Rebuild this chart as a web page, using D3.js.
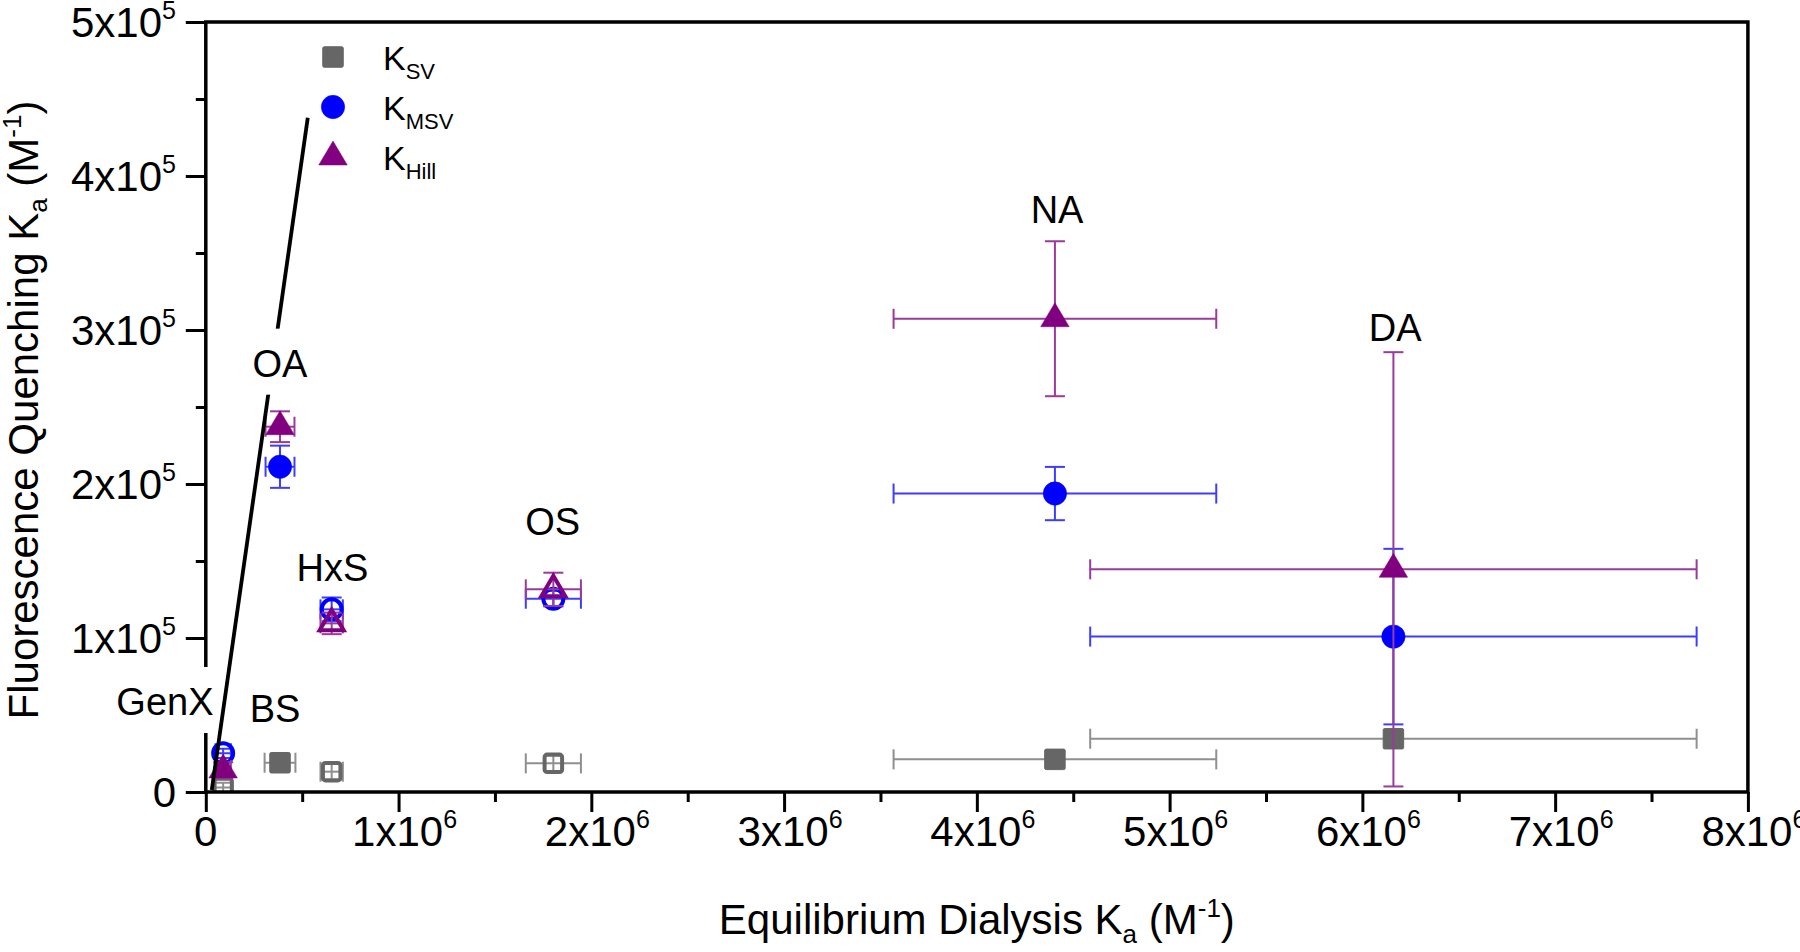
<!DOCTYPE html>
<html>
<head>
<meta charset="utf-8">
<script src="https://cdn.jsdelivr.net/npm/d3@7"></script>
<style>
html,body{margin:0;padding:0;background:#fff;}
svg{display:block;}
text{font-family:"Liberation Sans",Arial,Helvetica,sans-serif;fill:#000;}
</style>
</head>
<body>
<svg id="chart" width="1800" height="952"></svg>
<script>
// ---------------- data ----------------
const compounds = ["GenX", "BS", "OA", "HxS", "OS", "NA", "DA"];
const edKa      = [0.09e6, 0.385e6, 0.385e6, 0.653e6, 1.803e6, 4.405e6, 6.161e6];
const edKaErr   = [0.04e6, 0.08e6, 0.075e6, 0.058e6, 0.143e6, 0.837e6, 1.573e6];

const kSV       = [0.03e5, 0.19e5, null, 0.132e5, 0.186e5, 0.212e5, 0.346e5];
const kSVErr    = [0.03e5, 0, null, 0.05e5, 0.05e5, 0, 0];
const kMSV      = [0.251e5, null, 2.112e5, 1.186e5, 1.255e5, 1.938e5, 1.009e5];
const kMSVErr   = [0.03e5, null, 0.137e5, 0.077e5, 0.05e5, 0.173e5, 0.57e5];
const kHill     = [0.143e5, null, 2.372e5, 1.095e5, 1.316e5, 3.073e5, 1.446e5];
const kHillErr  = [0.05e5, null, 0.10e5, 0.07e5, 0.108e5, 0.503e5, 1.41e5];

const svOpen    = [true, false, false, true, true, false, false];
const msvOpen   = [true, false, false, true, true, false, false];
const hillOpen  = [false, false, false, true, true, false, false];

// annotation anchors (data units): centre x, baseline y
const labelX    = [-0.212e6, 0.359e6, 0.385e6, 0.657e6, 1.799e6, 4.416e6, 6.17e6];
const labelY    = [0.5e5, 0.456e5, 2.697e5, 1.37e5, 1.669e5, 3.692e5, 2.931e5];
const labelBg   = [true, false, true, false, false, false, false];

// reference line endpoints (data units)
const refLineX  = [0.031e6, 0.529e6];
const refLineY  = [0.013e5, 4.378e5];

const xTicks    = [0, 1e6, 2e6, 3e6, 4e6, 5e6, 6e6, 7e6, 8e6];
const yTicks    = [0, 1e5, 2e5, 3e5, 4e5, 5e5];
const legendSubs = ["SV", "MSV", "Hill"];

// ---------------- layout ----------------
const svg = d3.select("#chart");
const L = 205.8, R = 1747.9, T = 22, B = 792;
const x = d3.scaleLinear().domain([0, 8e6]).range([L, R]);
const y = d3.scaleLinear().domain([0, 5e5]).range([B, T]);

const series = [
  {name: "SV",   vals: kSV,   errs: kSVErr,   open: svOpen,   color: "#666666", err: "#8f8f8f", shape: "square"},
  {name: "MSV",  vals: kMSV,  errs: kMSVErr,  open: msvOpen,  color: "#0000ff", err: "#3d3dff", shape: "circle"},
  {name: "Hill", vals: kHill, errs: kHillErr, open: hillOpen, color: "#800080", err: "#9a3a9a", shape: "triangle"}
];

const CAP = 10;
function drawMarker(g, shape, cx, cy, color, open) {
  const sw = open ? 4 : 1;
  if (shape === "square") {
    const s = 20.5;
    g.append("rect").attr("x", cx - s/2 + (open?1.5:0)).attr("y", cy - s/2 + (open?1.5:0))
      .attr("width", s - (open?3:0)).attr("height", s - (open?3:0)).attr("rx", open?2.5:1.5)
      .attr("fill", open ? "none" : color).attr("stroke", color).attr("stroke-width", sw);
  } else if (shape === "circle") {
    g.append("circle").attr("cx", cx).attr("cy", cy).attr("r", open ? 10 : 11.7)
      .attr("fill", open ? "none" : color).attr("stroke", color).attr("stroke-width", open ? 4 : 0.5);
  } else {
    const w = open ? 24 : 28.5, h = open ? 20.5 : 24;
    const pts = [[cx, cy - 2*h/3], [cx + w/2, cy + h/3], [cx - w/2, cy + h/3]];
    g.append("path").attr("d", "M" + pts.map(p => p.join(",")).join("L") + "Z")
      .attr("fill", open ? "none" : color).attr("stroke", color)
      .attr("stroke-width", open ? 4 : 0.5).attr("stroke-linejoin", "miter");
  }
}

const clip = svg.append("defs").append("clipPath").attr("id", "plotclip");
clip.append("rect").attr("x", L).attr("y", T).attr("width", R - L).attr("height", B - T);

const dataG = svg.append("g").attr("clip-path", "url(#plotclip)");

series.forEach(s => {
  const g = dataG.append("g");
  compounds.forEach((c, i) => {
    const v = s.vals[i];
    if (v === null) return;
    const cx = x(edKa[i]), cy = y(v);
    const eg = g.append("g").attr("stroke", s.err).attr("stroke-width", 2).attr("fill", "none");
    if (edKaErr[i] > 0) {
      const x0 = x(edKa[i] - edKaErr[i]), x1 = x(edKa[i] + edKaErr[i]);
      eg.append("line").attr("x1", x0).attr("x2", x1).attr("y1", cy).attr("y2", cy);
      eg.append("line").attr("x1", x0).attr("x2", x0).attr("y1", cy - CAP).attr("y2", cy + CAP);
      eg.append("line").attr("x1", x1).attr("x2", x1).attr("y1", cy - CAP).attr("y2", cy + CAP);
    }
    if (s.errs[i] > 0) {
      const y0 = y(v - s.errs[i]), y1 = y(v + s.errs[i]);
      eg.append("line").attr("x1", cx).attr("x2", cx).attr("y1", y0).attr("y2", y1);
      eg.append("line").attr("x1", cx - CAP).attr("x2", cx + CAP).attr("y1", y0).attr("y2", y0);
      eg.append("line").attr("x1", cx - CAP).attr("x2", cx + CAP).attr("y1", y1).attr("y2", y1);
    }
  });
  compounds.forEach((c, i) => {
    const v = s.vals[i];
    if (v === null) return;
    drawMarker(g, s.shape, x(edKa[i]), y(v), s.color, s.open[i]);
  });
});

// ---------------- axes ----------------
function sciLabel(sel, d, exp) {
  sel.text(null);
  if (d === 0) { sel.text("0"); return; }
  const m = Math.round(d / Math.pow(10, exp));
  sel.append("tspan").text(m + "x10");
  sel.append("tspan").attr("font-size", "25px").attr("dy", "-18").text(exp);
}

const TICKFS = 42;
const xAxis = d3.axisBottom(x).tickValues(xTicks).tickSize(20).tickPadding(0).tickFormat(() => "");
const xMinor = d3.axisBottom(x).tickValues(d3.range(0.5e6, 8e6, 1e6)).tickSize(10).tickFormat(() => "");
const yAxis = d3.axisLeft(y).tickValues(yTicks).tickSize(20).tickFormat(() => "");
const yMinor = d3.axisLeft(y).tickValues(d3.range(0.5e5, 5e5, 1e5)).tickSize(10).tickFormat(() => "");

function styleAxis(g) {
  g.select(".domain").remove();
  g.selectAll(".tick line").attr("stroke", "#000").attr("stroke-width", 3);
}
svg.append("g").attr("transform", `translate(0,${B})`).call(xAxis).call(styleAxis);
svg.append("g").attr("transform", `translate(0,${B})`).call(xMinor).call(styleAxis);
svg.append("g").attr("transform", `translate(${L},0)`).call(yAxis).call(styleAxis);
svg.append("g").attr("transform", `translate(${L},0)`).call(yMinor).call(styleAxis);

// frame
svg.append("rect").attr("x", L).attr("y", T).attr("width", R - L).attr("height", B - T)
  .attr("fill", "none").attr("stroke", "#000").attr("stroke-width", 3.5);

// tick labels
const xl = svg.append("g").attr("font-size", TICKFS + "px").attr("text-anchor", "middle");
xTicks.forEach(t => {
  const tx = xl.append("text").attr("x", x(t) + (t === 0 ? 0 : 6)).attr("y", 846);
  sciLabel(tx, t, 6);
});
const yl = svg.append("g").attr("font-size", TICKFS + "px").attr("text-anchor", "end");
yTicks.forEach(t => {
  const ty = yl.append("text").attr("x", 176).attr("y", y(t) + 15);
  sciLabel(ty, t, 5);
});

// axis titles
const TFS = 42;
const xt = svg.append("text").attr("x", (L + R) / 2).attr("y", 934).attr("text-anchor", "middle")
  .attr("font-size", TFS + "px");
xt.append("tspan").text("Equilibrium Dialysis K");
xt.append("tspan").attr("font-size", "26px").attr("dy", 9).text("a");
xt.append("tspan").attr("dy", -9).text(" (M");
xt.append("tspan").attr("font-size", "26px").attr("dy", -17).text("-1");
xt.append("tspan").attr("dy", 17).text(")");

const yt = svg.append("text").attr("transform", `translate(38,410) rotate(-90)`)
  .attr("text-anchor", "middle").attr("font-size", TFS + "px");
yt.append("tspan").text("Fluorescence Quenching K");
yt.append("tspan").attr("font-size", "26px").attr("dy", 9).text("a");
yt.append("tspan").attr("dy", -9).text(" (M");
yt.append("tspan").attr("font-size", "26px").attr("dy", -17).text("-1");
yt.append("tspan").attr("dy", 17).text(")");

// ---------------- annotations ----------------
const LFS = 38;
function drawLabel(i) {
  const g = svg.append("g");
  const lx = x(labelX[i]), ly = y(labelY[i]);
  const t = g.append("text").attr("x", lx).attr("y", ly).attr("text-anchor", "middle")
    .attr("font-size", LFS + "px").text(compounds[i]);
  if (labelBg[i]) {
    const bb = t.node().getBBox();
    g.insert("rect", "text").attr("x", bb.x - 4).attr("y", ly - 48).attr("width", bb.width + 8)
      .attr("height", 66).attr("fill", "#fff");
  }
}
// GenX label sits over the y axis, reference line over it
drawLabel(0);
svg.append("line")
  .attr("x1", x(refLineX[0])).attr("y1", y(refLineY[0]))
  .attr("x2", x(refLineX[1])).attr("y2", y(refLineY[1]))
  .attr("stroke", "#000").attr("stroke-width", 3.8);
[1, 2, 3, 4, 5, 6].forEach(drawLabel);

// ---------------- legend ----------------
const legMx = 333, legTx = 383, legY0 = 57, legDy = 50;
series.forEach((s, i) => {
  const cy = legY0 + i * legDy;
  drawMarker(svg.append("g"), s.shape, legMx, cy, s.color, false);
  const t = svg.append("text").attr("x", legTx).attr("y", cy + 12.5).attr("font-size", "34px");
  t.append("tspan").text("K");
  t.append("tspan").attr("font-size", "22px").attr("dy", 9).text(legendSubs[i]);
});
</script>
</body>
</html>
